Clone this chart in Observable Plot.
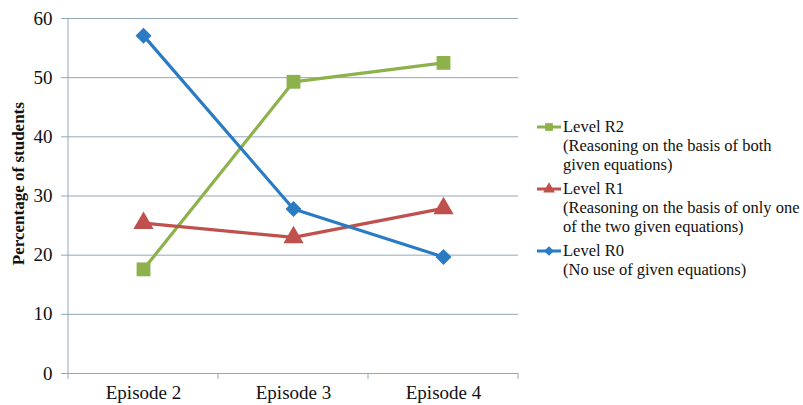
<!DOCTYPE html>
<html>
<head>
<meta charset="utf-8">
<script src="https://cdn.jsdelivr.net/npm/d3@7"></script>
<script src="https://cdn.jsdelivr.net/npm/@observablehq/plot@0.6"></script>
<style>
  html, body { margin: 0; padding: 0; background: #fff; }
  #wrap { position: relative; width: 803px; height: 405px; }
  #wrap, #wrap * { font-family: 'Liberation Serif', 'DejaVu Serif', serif !important; }
  #legend { position: absolute; left: 536px; top: 117px; font-size: 16.5px; line-height: 19px; color: #111; }
  .item { position: relative; padding-left: 27px; margin-bottom: 5px; }
  .item svg { position: absolute; left: 0; top: 2px; }
</style>
</head>
<body>
<div id="wrap"></div>
<script>
const episodes = ["Episode 2", "Episode 3", "Episode 4"];
const levelR2 = [17.6, 49.3, 52.5];
const levelR1 = [25.4, 23.0, 27.9];
const levelR0 = [57.1, 27.8, 19.7];
const yTicks = [0, 10, 20, 30, 40, 50, 60];

const series = [
  {name: "Level R2", desc: ["(Reasoning on the basis of both", "given equations)"], values: levelR2, color: "#8db14b", symbol: "square", r: 7.8},
  {name: "Level R1", desc: ["(Reasoning on the basis of only one", "of the two given equations)"], values: levelR1, color: "#c0504d", symbol: "triangle", r: 7.5},
  {name: "Level R0", desc: ["(No use of given equations)"], values: levelR0, color: "#2a7bc4", symbol: "diamond2", r: 7.2}
];

const data = series.flatMap(s => episodes.map((e, i) => ({episode: e, value: s.values[i], level: s.name})));

const colorDomain = series.map(s => s.name);
const colorRange = series.map(s => s.color);
const FONT = "'Liberation Serif', 'DejaVu Serif', serif";

const plot = Plot.plot({
  width: 803,
  height: 405,
  marginLeft: 67,
  marginRight: 285,
  marginTop: 18,
  marginBottom: 32,
  style: {fontFamily: FONT, fontSize: "19px", color: "#111", background: "#fff"},
  x: {type: "point", domain: episodes, padding: 0.5, label: null},
  y: {domain: [0, 60], ticks: yTicks, label: null},
  color: {domain: colorDomain, range: colorRange},
  marks: [
    Plot.gridY(yTicks.filter(d => d > 0), {stroke: "#93a7b8", strokeOpacity: 1, strokeWidth: 1}),
    Plot.ruleY([0], {stroke: "#93a7b8", strokeWidth: 1}),
    Plot.axisY({ticks: yTicks, tickSize: 6, tickPadding: 9, stroke: "#93a7b8", fontSize: 19, label: null}),
    Plot.axisX({tickSize: 0, tickPadding: 12, fontSize: 19, label: null}),
    Plot.line(data, {x: "episode", y: "value", z: "level", stroke: "level", strokeWidth: 3.2}),
    ...series.map(s => Plot.dot(data.filter(d => d.level === s.name), {x: "episode", y: "value", fill: s.color, symbol: () => s.symbol, r: s.r, stroke: "none"}))
  ]
});

document.getElementById("wrap").appendChild(plot);

const xs = plot.scale("x");
const ys = plot.scale("y");
const step = xs.step;
const y0 = ys.apply(0);
const yTop = ys.apply(60);
const svg = d3.select(plot);
const g = svg.insert("g", ":first-child + *").attr("stroke", "#93a7b8").attr("stroke-width", 1);
const left = xs.apply(episodes[0]) - step / 2;
g.append("line").attr("x1", left).attr("x2", left).attr("y1", yTop).attr("y2", y0 + 6);
episodes.forEach(e => {
  const bx = xs.apply(e) + step / 2;
  g.append("line").attr("x1", bx).attr("x2", bx).attr("y1", y0).attr("y2", y0 + 6);
});

svg.append("text")
  .attr("transform", `translate(20,${ys.apply(32)}) rotate(-90)`)
  .attr("text-anchor", "middle")
  .attr("dominant-baseline", "middle")
  .attr("font-weight", "bold")
  .attr("font-size", 17)
  .attr("fill", "#111")
  .text("Percentage of students");

svg.selectAll("text").attr("font-family", FONT).style("font-family", FONT);

const legend = d3.select("#wrap").append("div").attr("id", "legend");
series.forEach(s => {
  const item = legend.append("div").attr("class", "item");
  const sv = item.append("svg").attr("width", 26).attr("height", 16);
  sv.append("line").attr("x1", 1).attr("x2", 25).attr("y1", 8).attr("y2", 8).attr("stroke", s.color).attr("stroke-width", 3);
  const sym = {square: d3.symbolSquare, triangle: d3.symbolTriangle, diamond2: d3.symbolDiamond2}[s.symbol];
  sv.append("path").attr("transform", "translate(13,8)").attr("d", d3.symbol(sym, 60)()).attr("fill", s.color);
  item.append("div").text(s.name);
  s.desc.forEach(t => item.append("div").text(t));
});
</script>
</body>
</html>
